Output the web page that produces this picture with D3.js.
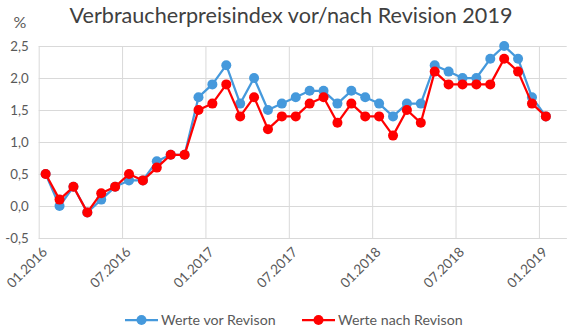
<!DOCTYPE html>
<html><head><meta charset="utf-8">
<script src="https://cdn.jsdelivr.net/npm/d3@7/dist/d3.min.js"></script>
<style>
body{margin:0;background:#fff;}
svg{display:block;font-family:Lato,"Open Sans",sans-serif;}
</style></head>
<body><svg id="c" width="572" height="333"></svg>
<script>
const months = ["01.2016","02.2016","03.2016","04.2016","05.2016","06.2016","07.2016","08.2016","09.2016","10.2016","11.2016","12.2016",
"01.2017","02.2017","03.2017","04.2017","05.2017","06.2017","07.2017","08.2017","09.2017","10.2017","11.2017","12.2017",
"01.2018","02.2018","03.2018","04.2018","05.2018","06.2018","07.2018","08.2018","09.2018","10.2018","11.2018","12.2018",
"01.2019"];
const vorRevision = [0.5,0.0,0.3,-0.1,0.1,0.3,0.4,0.4,0.7,0.8,0.8,1.7,
1.9,2.2,1.6,2.0,1.5,1.6,1.7,1.8,1.8,1.6,1.8,1.7,
1.6,1.4,1.6,1.6,2.2,2.1,2.0,2.0,2.3,2.5,2.3,1.7,
1.4];
const nachRevision = [0.5,0.1,0.3,-0.1,0.2,0.3,0.5,0.4,0.6,0.8,0.8,1.5,
1.6,1.9,1.4,1.7,1.2,1.4,1.4,1.6,1.7,1.3,1.6,1.4,
1.4,1.1,1.5,1.3,2.1,1.9,1.9,1.9,1.9,2.3,2.1,1.6,
1.4];
const xTickLabels = ["01.2016","07.2016","01.2017","07.2017","01.2018","07.2018","01.2019"];
const yTicks = [-0.5,0,0.5,1.0,1.5,2.0,2.5];
const seriesNames = ["Werte vor Revison","Werte nach Revison"];
const seriesColors = ["#4599DC","#FF0000"];
const title = "Verbraucherpreisindex vor/nach Revision 2019";

const svg = d3.select("#c");
const pLeft = 38.7, pRight = 566.7, pTop = 46, pBottom = 238;
const x = d3.scaleLinear().domain([0, months.length + 1]).range([pLeft, pRight]);
const y = d3.scaleLinear().domain([-0.5, 2.5]).range([pBottom, pTop]);
const loc = d3.formatLocale({decimal: ",", thousands: ".", grouping: [3], currency: ["", "€"], minus: "-"});
const fmt = loc.format(".1f");
const grid = "#D9D9D9", txt = "#595959";

// horizontal gridlines + y labels
const ya = svg.append("g").attr("transform", `translate(${pLeft},0)`)
  .call(d3.axisLeft(y).tickValues(yTicks).tickFormat(fmt).tickSize(-(pRight-pLeft)).tickPadding(10));
ya.select(".domain").remove();
ya.selectAll(".tick line").attr("stroke", grid).attr("stroke-width", 1);
ya.selectAll(".tick text").attr("fill", txt).style("font-size", "13.3px").attr("font-family", "Lato,'Open Sans',sans-serif");

// vertical gridlines + x labels
const tickIdx = xTickLabels.map(l => months.indexOf(l));
const xa = svg.append("g").attr("transform", `translate(0,${pBottom})`)
  .call(d3.axisBottom(x).tickValues(tickIdx).tickFormat((d, i) => xTickLabels[i]).tickSize(-(pBottom-pTop)).tickPadding(0));
xa.select(".domain").attr("stroke", grid).attr("d", `M${pLeft},0.5H${pRight}`);
xa.selectAll(".tick line").attr("stroke", grid).attr("stroke-width", 1);
xa.selectAll(".tick text").attr("fill", txt).style("font-size", "13.6px").attr("font-family", "Lato,'Open Sans',sans-serif")
  .attr("text-anchor", "end").attr("dy", null).attr("y", 0)
  .attr("transform", "translate(9,15) rotate(-45)");

// series
const data = [vorRevision, nachRevision];
const line = d3.line().x((d, i) => x(i + 0.5)).y(d => y(d));
data.forEach((s, k) => {
  const g = svg.append("g");
  g.append("path").datum(s).attr("d", line).attr("fill", "none")
    .attr("stroke", seriesColors[k]).attr("stroke-width", 2.25).attr("stroke-linejoin", "round");
  g.selectAll("circle").data(s).join("circle")
    .attr("cx", (d, i) => x(i + 0.5)).attr("cy", d => y(d)).attr("r", 5)
    .attr("fill", seriesColors[k]);
});

// title
svg.append("text").attr("x", 291).attr("y", 23).attr("text-anchor", "middle")
  .attr("fill", "#404040").style("font-size", "21.6px").text(title);
svg.append("text").attr("x", 20).attr("y", 28).attr("text-anchor", "middle")
  .attr("fill", txt).style("font-size", "16px").text("%");

// legend
const legX = [125, 302];
seriesNames.forEach((n, k) => {
  const g = svg.append("g").attr("transform", `translate(${legX[k]},320)`);
  g.append("line").attr("x1", 0).attr("x2", 33).attr("y1", 0).attr("y2", 0)
    .attr("stroke", seriesColors[k]).attr("stroke-width", 2.25);
  g.append("circle").attr("cx", 16.5).attr("cy", 0).attr("r", 5).attr("fill", seriesColors[k]);
  g.append("text").attr("x", 36).attr("y", 5).attr("fill", txt).style("font-size", "14.2px").text(n);
});
</script></body></html>
